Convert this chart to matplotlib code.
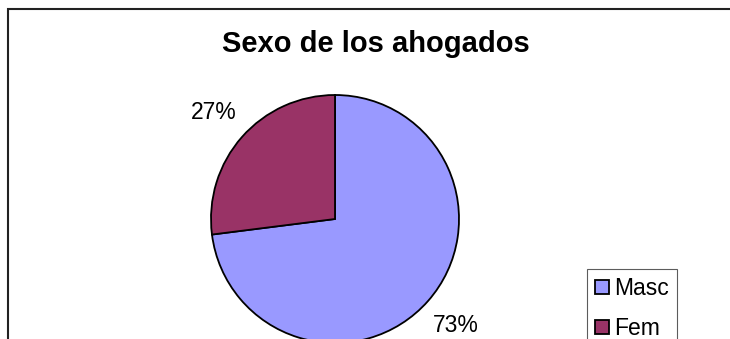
import matplotlib
matplotlib.use("Agg")
import matplotlib.pyplot as plt
from matplotlib.patches import Rectangle

plt.rcParams['font.family'] = ['Liberation Sans', 'DejaVu Sans']

# data
categories = ['Masc', 'Fem']
values = [73, 27]
colors = ['#9999FF', '#993366']
title = 'Sexo de los ahogados'

W, H = 730, 339
fig = plt.figure(figsize=(W / 100, H / 100), dpi=100)

# pie axes: centre at (335, 219) px, radius ~124 px
cx, cy, r = 335, 219, 124
half = 150
ax = fig.add_axes([(cx - half) / W, (H - cy - half) / H, 2 * half / W, 2 * half / H])
wedges, texts, autotexts = ax.pie(
    values, colors=colors, startangle=90, counterclock=False,
    autopct='%1.0f%%', pctdistance=1.3,
    wedgeprops=dict(edgecolor='black', linewidth=1.3),
    textprops=dict(fontsize=16.5, color='black'))
lim = half / r
ax.set_xlim(-lim, lim)
ax.set_ylim(-lim, lim)
ax.set_aspect('equal')
ax.axis('off')

fig.text(376 / W, 1 - 52 / H, title, ha='center', va='baseline',
         fontsize=21, fontweight='bold')

# outer chart border (right and bottom edges fall outside the image)
fig.add_artist(Rectangle((8 / W, -0.1), 2, (H - 9) / H + 0.1,
                         transform=fig.transFigure, fill=False,
                         edgecolor='#222222', linewidth=1.5))

leg = fig.legend(wedges, categories, loc='upper left',
                 bbox_to_anchor=(587 / W, 1 - 269 / H), borderaxespad=0,
                 fontsize=16.5, frameon=True, fancybox=False,
                 handlelength=0.6, handleheight=0.6, handletextpad=0.25,
                 labelspacing=0.75, borderpad=0.35)
leg.get_frame().set_edgecolor('#333333')
leg.get_frame().set_linewidth(0.8)

fig.savefig('out.png', dpi=100)
